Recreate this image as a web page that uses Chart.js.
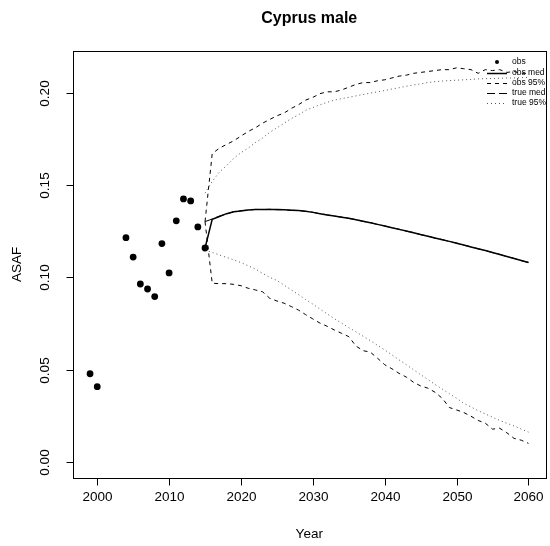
<!DOCTYPE html>
<html>
<head>
<meta charset="utf-8">
<script src="https://cdn.jsdelivr.net/npm/chart.js@4.4.1/dist/chart.umd.min.js"></script>
<style>
  html, body { margin: 0; padding: 0; background: #fff; }
  #wrap { width: 550px; height: 546px; }
</style>
</head>
<body>
<div id="wrap"><canvas id="asaf" width="550" height="546"></canvas></div>
<script>
// Cyprus male — observed ASAF and projected medians / 95% bounds.
var TITLE = 'Cyprus male';
var X_LABEL = 'Year';
var Y_LABEL = 'ASAF';

var obsYears  = [1999, 2000, 2004, 2005, 2006, 2007, 2008, 2009, 2010, 2011, 2012, 2013, 2014, 2015];
var obsValues = [0.0478, 0.0408, 0.1215, 0.1110, 0.0964, 0.0937, 0.0896, 0.1183, 0.1024, 0.1306, 0.1425, 0.1414, 0.1273, 0.1159];

var projYears = [2015, 2016, 2017, 2018, 2019, 2020, 2021, 2022, 2023, 2024,
                 2025, 2026, 2027, 2028, 2029, 2030, 2031, 2032, 2033, 2034,
                 2035, 2036, 2037, 2038, 2039, 2040, 2041, 2042, 2043, 2044,
                 2045, 2046, 2047, 2048, 2049, 2050, 2051, 2052, 2053, 2054,
                 2055, 2056, 2057, 2058, 2059, 2060];

var obsMed = [0.1159, 0.1315, 0.1330, 0.1345, 0.1355, 0.1360, 0.1365, 0.1367, 0.1368, 0.1368,
              0.1367, 0.1366, 0.1364, 0.1362, 0.1358, 0.1352, 0.1345, 0.1338, 0.1332, 0.1326,
              0.1320, 0.1312, 0.1304, 0.1296, 0.1287, 0.1278, 0.1269, 0.1260, 0.1251, 0.1242,
              0.1232, 0.1223, 0.1213, 0.1204, 0.1195, 0.1185, 0.1175, 0.1165, 0.1155, 0.1145,
              0.1135, 0.1124, 0.1113, 0.1102, 0.1091, 0.1080];

var trueMed = [0.1302, 0.1316, 0.1332, 0.1343, 0.1356, 0.1362, 0.1364, 0.1368, 0.1367, 0.1369,
               0.1366, 0.1367, 0.1363, 0.1363, 0.1357, 0.1353, 0.1344, 0.1339, 0.1331, 0.1327,
               0.1319, 0.1313, 0.1303, 0.1297, 0.1286, 0.1279, 0.1268, 0.1261, 0.1250, 0.1243,
               0.1231, 0.1224, 0.1212, 0.1205, 0.1194, 0.1186, 0.1174, 0.1166, 0.1154, 0.1146,
               0.1134, 0.1125, 0.1112, 0.1103, 0.1090, 0.1081];

var obsHi = [0.1302, 0.1670, 0.1700, 0.1720, 0.1740, 0.1765, 0.1790, 0.1810, 0.1835, 0.1855,
             0.1875, 0.1890, 0.1915, 0.1935, 0.1960, 0.1975, 0.1995, 0.2005, 0.2005, 0.2015,
             0.2030, 0.2045, 0.2055, 0.2055, 0.2065, 0.2070, 0.2080, 0.2090, 0.2095, 0.2105,
             0.2110, 0.2115, 0.2120, 0.2125, 0.2125, 0.2135, 0.2130, 0.2125, 0.2105, 0.2125,
             0.2120, 0.2125, 0.2110, 0.2115, 0.2105, 0.2105];

var obsLo = [0.1302, 0.0968, 0.0966, 0.0966, 0.0962, 0.0955, 0.0941, 0.0932, 0.0922, 0.0887,
             0.0872, 0.0860, 0.0842, 0.0823, 0.0798, 0.0775, 0.0752, 0.0735, 0.0715, 0.0697,
             0.0679, 0.0628, 0.0603, 0.0595, 0.0562, 0.0527, 0.0505, 0.0480, 0.0460, 0.0432,
             0.0412, 0.0400, 0.0378, 0.0345, 0.0295, 0.0282, 0.0268, 0.0248, 0.0225, 0.0210,
             0.0178, 0.0183, 0.0158, 0.0128, 0.0118, 0.0101];

var trueHi = [0.1456, 0.1520, 0.1570, 0.1605, 0.1645, 0.1675, 0.1700, 0.1730, 0.1755, 0.1785,
              0.1810, 0.1835, 0.1860, 0.1880, 0.1905, 0.1920, 0.1935, 0.1948, 0.1960, 0.1968,
              0.1975, 0.1983, 0.1990, 0.1998, 0.2005, 0.2012, 0.2020, 0.2027, 0.2035, 0.2042,
              0.2048, 0.2055, 0.2060, 0.2063, 0.2066, 0.2068, 0.2070, 0.2072, 0.2075, 0.2076,
              0.2077, 0.2078, 0.2080, 0.2080, 0.2082, 0.2083];

var trueLo = [0.1148, 0.1135, 0.1121, 0.1108, 0.1095, 0.1080, 0.1063, 0.1045, 0.1022, 0.1000,
              0.0983, 0.0958, 0.0932, 0.0907, 0.0880, 0.0855, 0.0828, 0.0802, 0.0776, 0.0752,
              0.0728, 0.0705, 0.0681, 0.0657, 0.0632, 0.0607, 0.0580, 0.0553, 0.0527, 0.0500,
              0.0473, 0.0447, 0.0420, 0.0395, 0.0370, 0.0345, 0.0318, 0.0298, 0.0278, 0.0260,
              0.0243, 0.0225, 0.0210, 0.0195, 0.0178, 0.0162];

var xTicks = [2000, 2010, 2020, 2030, 2040, 2050, 2060];
var yTicks = [0, 0.05, 0.10, 0.15, 0.20];
var yTickLabels = ['0.00', '0.05', '0.10', '0.15', '0.20'];

var legendLabels = ['obs', 'obs med', 'obs 95%', 'true med', 'true 95%'];

var FONT = '"Liberation Sans", Arial, Helvetica, sans-serif';
var DOT_COLOR = '#555';

function pairs(xs, ys) {
    return xs.map(function (x, i) { return { x: x, y: ys[i] }; });
}

function lineSet(label, ys, dash, width, color) {
    return {
        type: 'line',
        label: label,
        data: pairs(projYears, ys),
        borderColor: color || '#000',
        borderWidth: width,
        borderDash: dash,
        pointRadius: 0,
        fill: false,
        tension: 0,
    };
}

// Box, ticks, labels, title and legend drawn R-style.
var rFrame = {
    id: 'rFrame',
    afterDraw: function (chart) {
        var ctx = chart.ctx;
        var a = chart.chartArea;
        var xs = chart.scales.x;
        var ys = chart.scales.y;
        ctx.save();
        ctx.strokeStyle = '#000';
        ctx.fillStyle = '#000';
        ctx.lineWidth = 1;
        ctx.setLineDash([]);

        ctx.strokeRect(Math.round(a.left) + 0.5, Math.round(a.top) + 0.5,
                       Math.round(a.right - a.left) - 1, Math.round(a.bottom - a.top));

        ctx.font = '13.5px ' + FONT;
        ctx.textAlign = 'center';
        ctx.textBaseline = 'middle';
        var bottom = Math.round(a.bottom) + 0.5;
        xTicks.forEach(function (v) {
            var px = Math.round(xs.getPixelForValue(v)) + 0.5;
            ctx.beginPath();
            ctx.moveTo(px, bottom);
            ctx.lineTo(px, bottom + 7);
            ctx.stroke();
            ctx.fillText(String(v), px, bottom + 19);
        });

        var left = Math.round(a.left) + 0.5;
        yTicks.forEach(function (v, i) {
            var py = Math.round(ys.getPixelForValue(v)) + 0.5;
            ctx.beginPath();
            ctx.moveTo(left, py);
            ctx.lineTo(left - 7, py);
            ctx.stroke();
            ctx.save();
            ctx.translate(left - 28, py);
            ctx.rotate(-Math.PI / 2);
            ctx.fillText(yTickLabels[i], 0, 0);
            ctx.restore();
        });

        var cx = (a.left + a.right) / 2;
        ctx.fillText(X_LABEL, cx, 534);
        ctx.save();
        ctx.translate(17, (a.top + a.bottom) / 2);
        ctx.rotate(-Math.PI / 2);
        ctx.fillText(Y_LABEL, 0, 0);
        ctx.restore();

        ctx.font = 'bold 16px ' + FONT;
        ctx.fillText(TITLE, cx, 19);

        // Legend (no box), top right.
        var lx0 = 487, lx1 = 507, tx = 512;
        var rows = [62, 72.5, 83, 93, 103];
        var dashes = [null, [], [4, 4], [8, 4], [1, 3]];
        var widths = [0, 1.5, 1, 1, 1];
        var colors = ['#000', '#000', '#000', '#000', DOT_COLOR];
        ctx.font = '8.5px ' + FONT;
        ctx.textAlign = 'left';
        rows.forEach(function (y, i) {
            if (i === 0) {
                ctx.beginPath();
                ctx.arc(497, y, 2, 0, Math.PI * 2);
                ctx.fill();
            } else {
                ctx.setLineDash(dashes[i]);
                ctx.lineWidth = widths[i];
                ctx.strokeStyle = colors[i];
                ctx.beginPath();
                ctx.moveTo(lx0, Math.round(y) + 0.5);
                ctx.lineTo(lx1, Math.round(y) + 0.5);
                ctx.stroke();
            }
            ctx.setLineDash([]);
            ctx.fillText(legendLabels[i], tx, y);
        });
        ctx.restore();
    },
};

var chart = new Chart(document.getElementById('asaf'), {
    type: 'line',
    data: {
        datasets: [
            {
                type: 'scatter',
                label: 'obs',
                data: pairs(obsYears, obsValues),
                backgroundColor: '#000',
                borderColor: '#000',
                pointRadius: 3.4,
                pointBorderWidth: 0,
                showLine: false,
            },
            lineSet('obs med', obsMed, [], 1.5),
            lineSet('true med', trueMed, [8, 4], 1),
            lineSet('obs 95%', obsHi, [4, 4], 1),
            lineSet('obs 95% low', obsLo, [4, 4], 1),
            lineSet('true 95%', trueHi, [1, 3], 1, DOT_COLOR),
            lineSet('true 95% low', trueLo, [1, 3], 1, DOT_COLOR),
        ],
    },
    options: {
        responsive: false,
        animation: false,
        devicePixelRatio: 1,
        layout: { padding: { left: 72.5, top: 51, right: 2, bottom: 68.3 } },
        plugins: {
            legend: { display: false },
            tooltip: { enabled: false },
            title: { display: false },
        },
        scales: {
            x: { type: 'linear', display: false, min: 1996.56, max: 2062.44 },
            y: { type: 'linear', display: false, min: -0.0085, max: 0.2226 },
        },
    },
    plugins: [rFrame],
});
</script>
</body>
</html>
